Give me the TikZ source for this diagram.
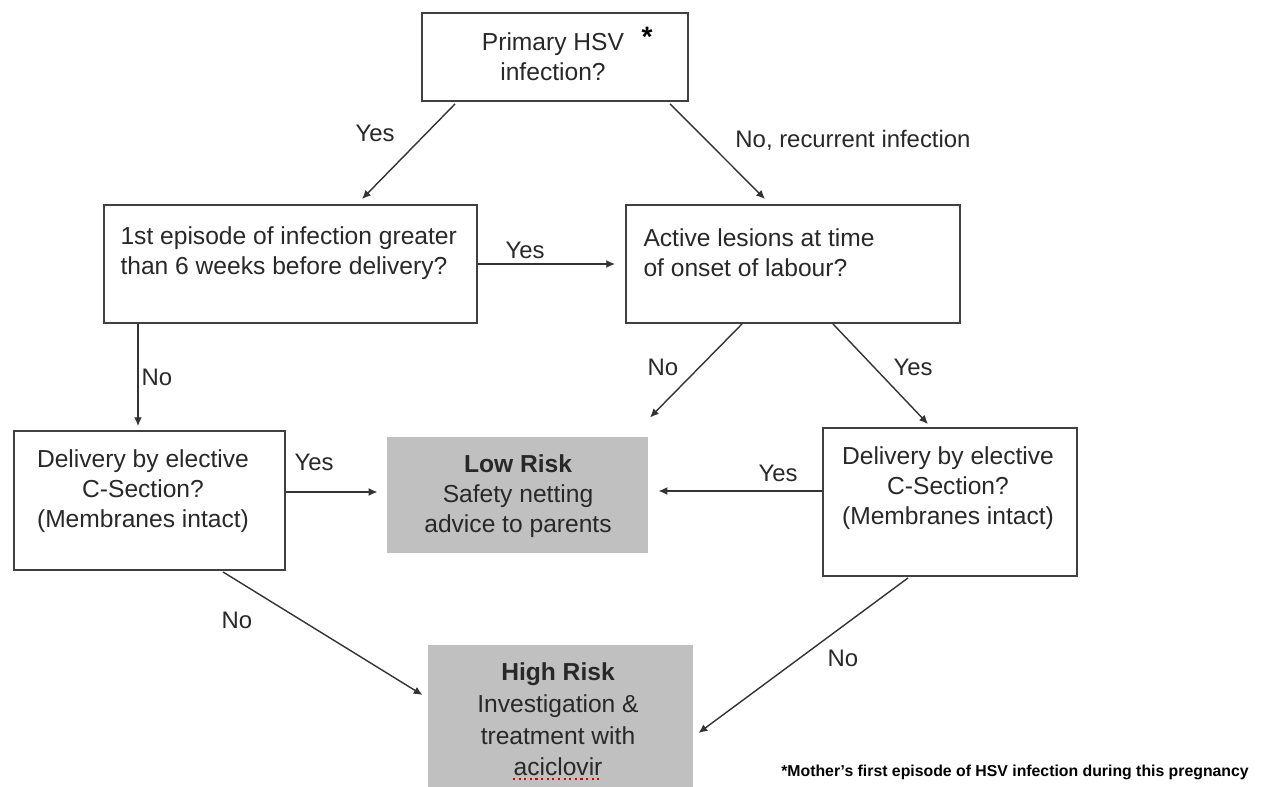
\documentclass[tikz,border=0pt]{standalone}
\usepackage{fontspec}
\setmainfont{Liberation Sans}
\usetikzlibrary{calc,positioning,arrows.meta}
\definecolor{riskgray}{RGB}{192,192,192}
\definecolor{inkgray}{RGB}{40,40,40}

\begin{document}
\begin{tikzpicture}[x=0.02cm, y=-0.02cm, semithick,
		box/.style={draw=black!75, line width=1.1pt, rectangle, inner sep=0pt},
		risk/.style={fill=riskgray, rectangle, inner sep=0pt},
		txt/.style={text=inkgray, font=\fontsize{14}{17}\selectfont, inner sep=0pt, align=center},
		lbl/.style={text=inkgray, font=\fontsize{13.6}{16}\selectfont, inner sep=0pt},
		arr/.style={-{Latex[length=5pt,width=4.5pt]}, line width=0.8pt, draw=black!80}]
			\useasboundingbox (0,0) rectangle (1268,787);
			\node[box, minimum width=5.32cm, minimum height=1.76cm]  (prim) at (555,57)      {};
			\node[box, minimum width=7.46cm, minimum height=2.36cm]  (ep1)  at (290.5,264)   {};
			\node[box, minimum width=6.68cm, minimum height=2.36cm]  (act)  at (793,264)     {};
			\node[box, minimum width=5.42cm, minimum height=2.78cm]  (csl)  at (149.5,500.5) {};
			\node[risk, minimum width=5.22cm, minimum height=2.32cm] (low)  at (517.5,495)   {};
			\node[box, minimum width=5.08cm, minimum height=2.96cm]  (csr)  at (950,502)     {};
			\node[risk, minimum width=5.30cm, minimum height=3.20cm] (high) at (560.5,725)   {};
			\node[txt]              (primtxt) at (553,57)    {Primary HSV\\infection?};
			\node[txt, font=\bfseries\fontsize{16}{16}\selectfont, text=black] (star) at (647,37) {*};
			\node[txt, anchor=west, align=left] (ep1txt) at (120,253)   {1st episode of infection greater\\than 6 weeks before delivery?};
			\node[txt, anchor=west, align=left] (acttxt) at (643,252.5) {Active lesions at time\\of onset of labour?};
			\node[txt]              (csltxt)  at (143,491)   {Delivery by elective\\C-Section?\\(Membranes intact)};
			\node[txt]              (lowtxt)  at (518,496)   {\textbf{Low Risk}\\Safety netting\\advice to parents};
			\node[txt]              (csrtxt)  at (948,488)   {Delivery by elective\\C-Section?\\(Membranes intact)};
			\node[txt, font=\fontsize{14}{18}\selectfont] (hightxt) at (558,719.5) {\textbf{High Risk}\\Investigation \&\\treatment with\\aciclovir};
			\draw[red!85!black, dotted, line width=1.2pt] (513,779) -- (601,779);
			\draw[arr] ($(prim.south)+(-100,2)$) -- ($(ep1.north)+(71.5,-5)$);
			\draw[arr] ($(prim.south)+(115,2)$)  -- ($(act.north)+(-28,-5)$);
			\draw[arr] (ep1.east) -- ($(act.west)+(-10,0)$);
			\draw[arr] ($(ep1.south)+(-152.5,0)$) -- ($(csl.north)+(-11.5,-4)$);
			\draw[arr] ($(csl.east)+(0,-8.5)$) -- ($(low.west)+(-9,-3)$);
			\draw[arr] ($(act.south)+(-51,0)$) -- ($(low.north)+(132.5,-19)$);
			\draw[arr] ($(act.south)+(40,0)$)  -- ($(csr.north)+(-22,-3)$);
			\draw[arr] ($(csr.west)+(0,-11)$)  -- ($(low.east)+(10,-4)$);
			\draw[arr] ($(csl.south)+(73.5,1)$) -- ($(high.west)+(-5,-30)$);
			\draw[arr] ($(csr.south)+(-42,1)$)  -- ($(high.east)+(5,8)$);
			\node[lbl] (yes1) at (375,133) {Yes};
			\node[lbl] (no1)  at (853,140) {No, recurrent infection};
			\node[lbl] (yes2) at (525,250) {Yes};
			\node[lbl] (no2)  at (157,377) {No};
			\node[lbl] (yes3) at (314,462) {Yes};
			\node[lbl] (no3)  at (663,367) {No};
			\node[lbl] (yes4) at (913,367) {Yes};
			\node[lbl] (yes5) at (778,473) {Yes};
			\node[lbl] (no4)  at (237,620) {No};
			\node[lbl] (no5)  at (843,658) {No};
			\node[font=\bfseries\fontsize{9}{11}\selectfont, inner sep=0pt] (note) at (1015,772) {*Mother’s first episode of HSV infection during this pregnancy};
		\end{tikzpicture}
\end{document}
